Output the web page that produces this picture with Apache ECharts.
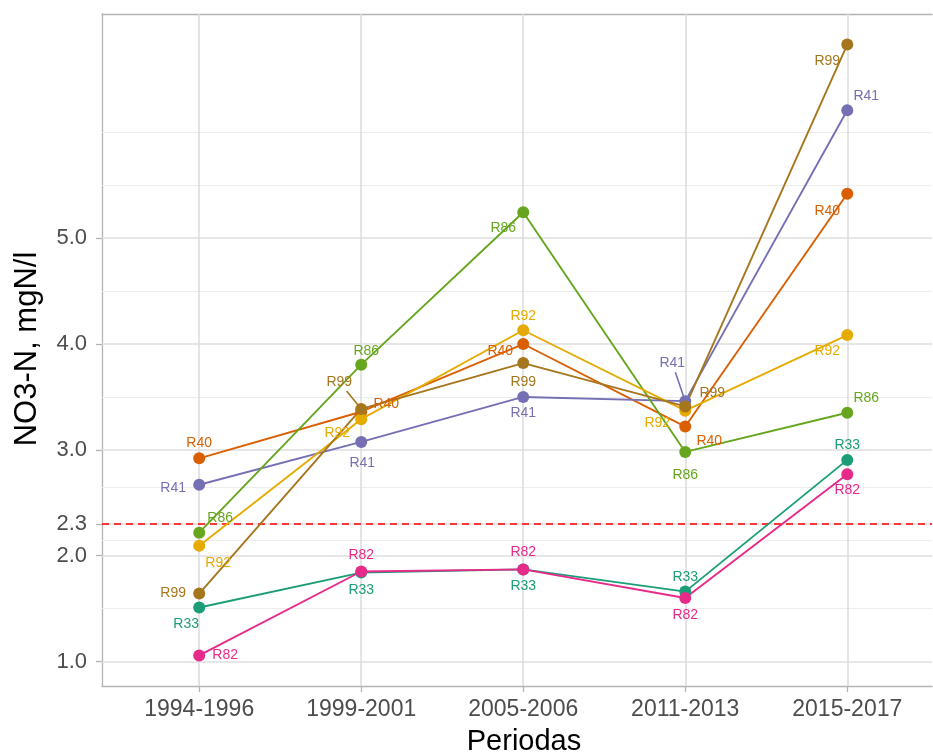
<!DOCTYPE html>
<html>
<head>
<meta charset="utf-8">
<script src="https://cdn.jsdelivr.net/npm/echarts@6/dist/echarts.min.js"></script>
<style>
  html, body { margin: 0; padding: 0; background: #ffffff; }
  #chart { width: 933px; height: 756px; }
</style>
</head>
<body>
<div id="chart"></div>
<script>
// Periods on the x axis
const periods = ['1994-1996', '1999-2001', '2005-2006', '2011-2013', '2015-2017'];

// Mean NO3-N (mgN/l) per station and period
const R33 = [1.51, 1.84, 1.87, 1.66, 2.905];
const R40 = [2.92, 3.36, 4.00, 3.22, 5.42];
const R41 = [2.67, 3.075, 3.50, 3.46, 6.21];
const R82 = [1.057, 1.85, 1.87, 1.60, 2.77];
const R86 = [2.217, 3.805, 5.245, 2.98, 3.35];
const R92 = [2.094, 3.29, 4.13, 3.37, 4.085];
const R99 = [1.642, 3.387, 3.82, 3.41, 6.83];

const stationNames = ['R33', 'R40', 'R41', 'R82', 'R86', 'R92', 'R99'];
const stationValues = [R33, R40, R41, R82, R86, R92, R99];

// Y axis breaks, minor grid and the 2.3 mgN/l reference level
const yTicks = [1.0, 2.0, 2.3, 3.0, 4.0, 5.0];
const yMinor = [1.5, 2.15, 2.65, 3.5, 4.5, 5.5, 6.0];
const threshold = 2.3;

// Layout: Dark2 palette and per-label pixel offsets (repelled label placement)
const palette = ['#1B9E77', '#D95F02', '#7570B3', '#E7298A', '#66A61E', '#E6AB02', '#A6761D'];
const labelOffsets = {
  R33: [[-13, 17], [0, 18], [0, 17], [0, -14], [0, -15]],
  R40: [[0, -15], [25, -8], [-23, 7], [24, 15], [-20, 17]],
  R41: [[-26, 3], [1, 21], [0, 16], [-13, -38], [19, -14]],
  R82: [[26, 0], [0, -16], [0, -17], [0, 17], [0, 16]],
  R86: [[21, -15], [5, -14], [-20, 16], [0, 23], [19, -15]],
  R92: [[19, 17], [-24, 14], [0, -14], [-28, 12], [-20, 16]],
  R99: [[-26, 0], [-22, -27], [0, 19], [27, -13], [-20, 17]]
};
// Labels pushed far enough from their point get a leader segment
const leaders = [['R99', 1], ['R41', 3]];

const FONT = '"Liberation Sans", Arial, Helvetica, sans-serif';
const BORDER = '#b3b3b3';

// Discrete x scale padded by 0.6 of a step on the left; the panel runs past the right edge
const xMin = -0.6;
const xMax = 4.523;

const chart = echarts.init(document.getElementById('chart'), null, { renderer: 'canvas' });

const noSym = ['none', 'none'];
const gridLineSeries = {
  type: 'line',
  data: [],
  z: 1,
  silent: true,
  markLine: {
    z: 1,
    silent: true,
    symbol: noSym,
    label: { show: false },
    animation: false,
    data: [
      ...yMinor.map(v => ({ yAxis: v, lineStyle: { color: '#ededed', width: 1, type: 'solid' } })),
      ...yTicks.map(v => ({ yAxis: v, lineStyle: { color: '#dedede', width: 1.6, type: 'solid' } })),
      ...periods.map((p, i) => ({ xAxis: i, lineStyle: { color: '#dedede', width: 1.6, type: 'solid' } }))
    ]
  }
};

const thresholdSeries = {
  type: 'line',
  data: [],
  z: 2,
  silent: true,
  markLine: {
    z: 2,
    silent: true,
    symbol: noSym,
    label: { show: false },
    animation: false,
    data: [{ yAxis: threshold, lineStyle: { color: '#ff0000', width: 1.6, type: [7, 5] } }]
  }
};

const lineSeries = stationNames.map((name, k) => ({
  name: name,
  type: 'line',
  z: 3,
  symbol: 'none',
  silent: true,
  lineStyle: { color: palette[k], width: 1.9 },
  data: stationValues[k].map((v, i) => [i, v])
}));

const leaderData = leaders.map(([name, i]) => {
  const k = stationNames.indexOf(name);
  const off = labelOffsets[name][i];
  return [i, stationValues[k][i], off[0], off[1], k];
});

const leaderSeries = {
  type: 'custom',
  z: 4,
  silent: true,
  data: leaderData,
  renderItem: function (params, api) {
    const p = api.coord([api.value(0), api.value(1)]);
    const dx = api.value(2), dy = api.value(3);
    const k = api.value(4);
    // start at the edge of the label box, end just outside the point
    const t = Math.min(15 / Math.abs(dx || 1e-6), 9 / Math.abs(dy || 1e-6));
    const sx = p[0] + dx * (1 - t), sy = p[1] + dy * (1 - t);
    const len = Math.sqrt(dx * dx + dy * dy);
    const ex = p[0] + dx / len * 5, ey = p[1] + dy / len * 5;
    return {
      type: 'line',
      shape: { x1: sx, y1: sy, x2: ex, y2: ey },
      style: { stroke: palette[k], lineWidth: 1.6 }
    };
  }
};

const pointSeries = stationNames.map((name, k) => ({
  name: name + '-points',
  type: 'scatter',
  z: 5,
  symbol: 'circle',
  symbolSize: 12,
  silent: true,
  itemStyle: { color: palette[k], opacity: 1 },
  label: {
    show: true,
    position: 'inside',
    formatter: name,
    color: palette[k],
    fontFamily: FONT,
    fontSize: 14
  },
  data: stationValues[k].map((v, i) => ({
    value: [i, v],
    label: { offset: labelOffsets[name][i] }
  }))
}));

const option = {
  animation: false,
  backgroundColor: '#ffffff',
  textStyle: { fontFamily: FONT },
  grid: { left: 102, top: 14, right: 1, bottom: 70, show: false },
  xAxis: [
    {
      type: 'value',
      position: 'bottom',
      min: xMin,
      max: xMax,
      axisLine: { show: true, onZero: false, lineStyle: { color: BORDER, width: 1.3 } },
      splitLine: { show: false },
      axisTick: { show: true, customValues: periods.map((p, i) => i), length: 6, lineStyle: { color: BORDER, width: 1.3 } },
      axisLabel: {
        customValues: periods.map((p, i) => i),
        formatter: v => periods[Math.round(v)],
        color: '#4d4d4d', fontSize: 23, fontFamily: FONT, margin: 12
      }
    },
    {
      // top edge of the panel
      type: 'value',
      position: 'top',
      min: xMin,
      max: xMax,
      axisLine: { show: true, onZero: false, lineStyle: { color: BORDER, width: 1.3 } },
      splitLine: { show: false },
      axisTick: { show: false },
      axisLabel: { show: false }
    }
  ],
  yAxis: {
    type: 'value',
    min: 0.768,
    max: 7.119,
    axisLine: { show: true, onZero: false, lineStyle: { color: BORDER, width: 1.3 } },
    splitLine: { show: false },
    axisTick: { show: true, customValues: yTicks, length: 6, lineStyle: { color: BORDER, width: 1.3 } },
    axisLabel: {
      customValues: yTicks,
      formatter: v => v.toFixed(1),
      color: '#4d4d4d', fontSize: 22, fontFamily: FONT, margin: 15
    }
  },
  graphic: [
    {
      type: 'text', x: 27, y: 349, rotation: Math.PI / 2,
      style: { text: 'NO3-N, mgN/l', fill: '#000000', font: '31px ' + FONT, align: 'center', verticalAlign: 'middle' }
    },
    {
      type: 'text', x: 524, y: 742,
      style: { text: 'Periodas', fill: '#000000', font: '29px ' + FONT, align: 'center', verticalAlign: 'middle' }
    }
  ],
  series: [gridLineSeries, thresholdSeries, ...lineSeries, leaderSeries, ...pointSeries]
};

chart.setOption(option);
</script>
</body>
</html>
